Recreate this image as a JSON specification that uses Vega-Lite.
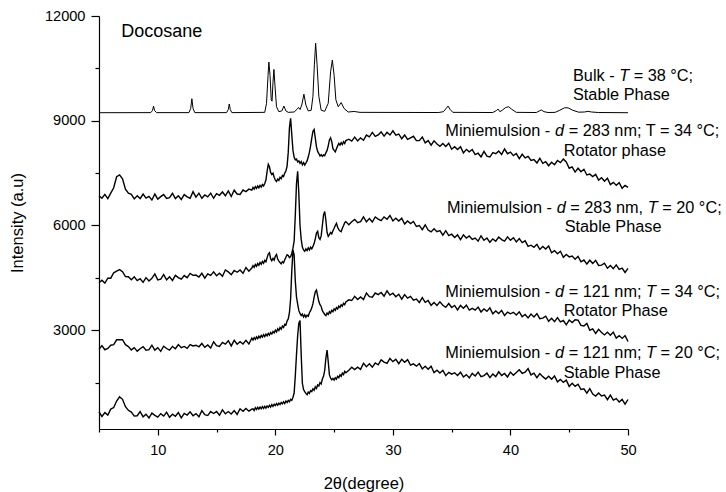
{
  "$schema": "https://vega.github.io/schema/vega-lite/v6.json",
  "autosize": {"type": "none"},
  "width": 529,
  "height": 413,
  "padding": {"left": 99, "top": 16, "right": 98, "bottom": 63},
  "background": "white",
  "config": {
    "view": {"stroke": null},
    "font": "Liberation Sans",
    "axis": {
      "grid": false,
      "domainColor": "black",
      "domainWidth": 1.2,
      "tickColor": "black",
      "tickWidth": 1.2,
      "labelColor": "black",
      "labelFont": "Liberation Sans",
      "labelFontSize": 14.6,
      "titleFont": "Liberation Sans",
      "titleFontSize": 16.5,
      "titleFontWeight": "normal",
      "titleColor": "black",
      "labelOverlap": false,
      "labelFlush": false
    }
  },
  "datasets": {
    "noisy": [
      {
        "x": [5,5.25,5.5,5.75,6,6.25,6.5,6.75,7,7.25,7.5,7.75,8,8.25,8.5,8.75,9,9.25,9.5,9.75,10,10.25,10.5,10.75,11,11.25,11.5,11.75,12,12.25,12.5,12.75,13,13.25,13.5,13.75,14,14.25,14.5,14.75,15,15.25,15.5,15.75,16,16.25,16.5,16.75,17,17.25,17.5,17.75,18,
              18.1,18.2,18.3,18.4,18.5,18.6,18.7,18.8,18.9,19,19.1,19.2,19.3,19.4,19.5,19.6,19.7,19.8,19.9,20,20.1,20.2,20.3,20.4,20.5,20.6,20.7,20.8,20.9,21,21.1,21.2,21.3,21.4,21.5,21.6,21.7,21.8,21.9,22,22.1,22.2,22.3,22.4,22.5,22.6,22.7,22.8,22.9,23,23.1,23.2,23.3,23.4,23.5,23.6,23.7,23.8,23.9,24,24.1,24.2,24.3,24.4,24.5,24.6,24.7,24.8,24.9,25,25.1,25.2,25.3,25.4,25.5,25.6,25.7,25.8,25.9,26,
              26.25,26.5,26.75,27,27.25,27.5,27.75,28,28.25,28.5,28.75,29,29.25,29.5,29.75,30,30.25,30.5,30.75,31,31.25,31.5,31.75,32,32.25,32.5,32.75,33,33.25,33.5,33.75,34,34.25,34.5,34.75,35,35.25,35.5,35.75,36,36.25,36.5,36.75,37,37.25,37.5,37.75,38,38.25,38.5,38.75,39,39.25,39.5,39.75,40,40.25,40.5,40.75,41,41.25,41.5,41.75,42,42.25,42.5,42.75,43,43.25,43.5,43.75,44,44.25,44.5,44.75,45,45.25,45.5,45.75,46,46.25,46.5,46.75,47,47.25,47.5,47.75,48,48.25,48.5,48.75,49,49.25,49.5,49.75,50],
        "c2": [6850,6780,6890,6770,6925,7080,7395,7450,7335,7040,6925,6890,6760,6850,6770,6900,6785,6835,6730,6900,6755,6825,6885,6775,6795,6920,6770,6850,6745,6885,6820,6780,6970,6810,6925,6780,6875,6820,6925,6780,6910,6865,6960,6850,6990,6830,7010,6900,6890,7015,6970,7040,7010,
              7090,7040,7110,7060,7130,7080,7150,7100,7170,7130,7200,7300,7550,7750,7680,7520,7460,7500,7380,7300,7260,7330,7290,7380,7340,7430,7400,7500,7560,7700,8100,8800,9070,8600,8150,7950,7880,7900,7820,7850,7780,7830,7740,7800,7730,7790,7850,7960,8100,8280,8500,8700,8750,8500,8250,8120,8060,7990,8030,7980,8020,8000,8080,8150,8280,8450,8510,8400,8200,8150,8110,8200,8280,8350,8300,8370,8320,8400,8350,8430,
              8470,8415,8530,8420,8510,8440,8590,8540,8665,8550,8595,8680,8560,8668,8590,8710,8585,8620,8485,8590,8465,8510,8555,8430,8430,8535,8365,8430,8300,8425,8335,8270,8350,8265,8355,8185,8255,8175,8255,8080,8180,8110,8175,8030,8070,7965,8120,7985,7960,8090,8055,8130,8035,8190,8055,8100,8000,8060,7915,8040,7935,7980,7865,7890,7790,7925,7780,7830,7710,7810,7740,7860,7800,7900,7820,7640,7680,7530,7640,7540,7610,7445,7470,7400,7465,7300,7365,7270,7355,7170,7235,7150,7225,7065,7150,7090],
        "c3": [4360,4430,4350,4490,4490,4645,4690,4735,4675,4535,4530,4445,4530,4420,4475,4370,4505,4410,4485,4610,4440,4465,4590,4445,4530,4425,4570,4505,4460,4565,4505,4625,4570,4580,4525,4630,4490,4615,4570,4670,4560,4630,4545,4725,4670,4590,4710,4660,4725,4630,4795,4690,4780,
              4850,4800,4880,4830,4910,4860,4940,4890,4970,4920,5000,4960,5080,5180,5220,5050,4990,5060,5010,5120,5170,5040,4980,4940,4900,4960,4930,5020,5090,5160,5140,5080,5110,5200,5350,5550,6300,7200,7550,6900,6000,5600,5380,5300,5260,5330,5280,5360,5300,5380,5330,5400,5480,5620,5780,5830,5650,5600,5700,6000,6300,6400,6150,5800,5690,5740,5800,5760,5850,5920,6000,6060,5950,5880,5840,5820,5920,5990,6080,6110,
              6020,6105,6175,6080,6110,6245,6105,6200,6098,6245,6183,6140,6245,6180,6285,6130,6205,6125,6210,6040,6130,6055,6115,5970,6000,5880,6020,5870,5815,5905,5820,5850,5720,5850,5710,5750,5655,5730,5595,5730,5640,5700,5600,5640,5550,5705,5575,5640,5518,5615,5548,5670,5595,5550,5673,5576,5650,5530,5625,5510,5560,5400,5435,5375,5460,5315,5400,5325,5410,5220,5280,5190,5260,5090,5170,5100,5125,5035,5115,4960,5010,4895,5005,4910,5000,4855,4865,4920,4775,4855,4760,4870,4745,4780,4655,4770],
        "c4": [2450,2560,2440,2480,2570,2585,2725,2725,2730,2585,2530,2435,2500,2400,2470,2530,2425,2445,2570,2430,2500,2395,2540,2475,2430,2535,2470,2590,2500,2535,2480,2590,2550,2570,2525,2620,2510,2575,2490,2670,2560,2535,2650,2600,2700,2550,2710,2600,2670,2605,2710,2605,2770,
              2720,2790,2740,2810,2760,2830,2780,2850,2800,2870,2820,2890,2840,2910,2860,2930,2890,2960,2920,3000,2950,3040,2990,3080,3030,3120,3080,3170,3150,3260,3330,3500,3900,4700,5300,5150,4400,3950,3750,3560,3480,3420,3460,3380,3440,3370,3430,3400,3500,3560,3640,3760,3950,4100,4150,3980,3820,3730,3680,3560,3500,3450,3420,3490,3450,3530,3490,3570,3530,3610,3570,3650,3610,3690,3650,3730,3690,3770,3730,3810,
              3870,3850,3970,3880,3955,3880,4065,3960,3945,4065,4020,4080,3975,4130,4005,4060,3960,4030,3890,4020,3920,3970,3860,3890,3792,3935,3798,3850,3713,3796,3709,3812,3715,3655,3765,3650,3710,3580,3710,3628,3717,3577,3625,3574,3663,3522,3611,3540,3640,3470,3550,3480,3570,3420,3520,3470,3512,3434,3525,3386,3448,3350,3465,3380,3475,3330,3345,3400,3255,3340,3245,3360,3240,3278,3155,3290,3220,3300,3290,3140,3120,3195,3000,3037,2905,3025,2935,2865,2945,2855,2945,2775,2845,2765,2845,2678],
        "c5": [660,530,640,570,740,785,970,1090,1020,810,705,655,540,550,670,520,595,485,625,560,510,610,540,650,505,595,535,640,490,615,570,660,550,610,520,695,580,555,670,615,670,565,720,605,670,600,700,590,750,680,760,680,740,
              750,700,780,730,790,740,800,750,810,760,820,770,830,790,850,800,870,820,880,840,900,850,910,870,930,890,950,900,970,930,990,950,1020,990,1080,1200,1700,2300,2850,3200,3280,2300,1480,1300,1240,1190,1150,1230,1190,1270,1240,1320,1280,1380,1330,1430,1400,1500,1460,1600,1680,1850,2200,2430,2100,1720,1630,1580,1620,1570,1640,1600,1680,1640,1720,1680,1770,1730,1820,1780,
              1850,1940,1870,1940,1878,2055,1953,2040,1940,2060,2010,2150,2085,2050,2190,2100,2168,2040,2165,2080,2155,2000,2035,1970,2045,1890,1965,1880,1968,1786,1854,1772,1850,1698,1794,1740,1782,1705,1798,1660,1728,1635,1762,1690,1800,1670,1700,1770,1642,1745,1672,1808,1704,1760,1660,1800,1710,1790,1865,1765,1795,1900,1720,1770,1640,1760,1670,1600,1682,1595,1687,1520,1590,1505,1570,1390,1478,1395,1453,1300,1322,1195,1328,1170,1115,1200,1115,1140,1010,1140,1000,1040,944,1018,882,1015]
      }
    ],
    "bulk": [
      {"x":5,"y":9230},{"x":9.4,"y":9232},{"x":9.55,"y":9290},{"x":9.64,"y":9420},{"x":9.73,"y":9290},{"x":9.9,"y":9232},
      {"x":12.65,"y":9232},{"x":12.8,"y":9350},{"x":12.9,"y":9630},{"x":13.0,"y":9350},{"x":13.15,"y":9232},
      {"x":15.85,"y":9232},{"x":16.0,"y":9320},{"x":16.08,"y":9480},{"x":16.17,"y":9320},{"x":16.3,"y":9232},
      {"x":19.1,"y":9240},{"x":19.25,"y":9500},{"x":19.38,"y":10300},{"x":19.45,"y":10680},{"x":19.55,"y":10300},{"x":19.65,"y":9600},{"x":19.72,"y":9560},{"x":19.8,"y":10100},{"x":19.88,"y":10470},{"x":19.97,"y":10000},{"x":20.1,"y":9400},{"x":20.3,"y":9260},
      {"x":20.55,"y":9280},{"x":20.73,"y":9420},{"x":20.9,"y":9280},{"x":21.1,"y":9240},
      {"x":21.6,"y":9250},{"x":21.85,"y":9330},{"x":21.98,"y":9380},{"x":22.1,"y":9320},{"x":22.25,"y":9450},{"x":22.43,"y":9760},{"x":22.6,"y":9450},{"x":22.8,"y":9280},
      {"x":23.05,"y":9300},{"x":23.2,"y":9700},{"x":23.32,"y":10600},{"x":23.43,"y":11220},{"x":23.55,"y":10600},{"x":23.7,"y":9700},{"x":23.9,"y":9300},
      {"x":24.2,"y":9270},{"x":24.5,"y":9500},{"x":24.7,"y":10400},{"x":24.85,"y":10740},{"x":25.0,"y":10300},{"x":25.15,"y":9600},{"x":25.35,"y":9400},{"x":25.6,"y":9520},{"x":25.85,"y":9350},{"x":26.2,"y":9250},{"x":26.7,"y":9265},{"x":27.2,"y":9240},
      {"x":33.9,"y":9235},{"x":34.3,"y":9260},{"x":34.55,"y":9360},{"x":34.69,"y":9420},{"x":34.85,"y":9330},{"x":35.1,"y":9240},
      {"x":38.5,"y":9235},{"x":38.8,"y":9290},{"x":38.94,"y":9336},{"x":39.1,"y":9260},{"x":39.3,"y":9300},{"x":39.6,"y":9380},{"x":39.85,"y":9400},{"x":40.1,"y":9330},{"x":40.5,"y":9240},
      {"x":42.2,"y":9235},{"x":42.45,"y":9280},{"x":42.63,"y":9308},{"x":42.85,"y":9260},{"x":43.2,"y":9235},
      {"x":43.8,"y":9240},{"x":44.2,"y":9300},{"x":44.6,"y":9370},{"x":44.9,"y":9370},{"x":45.3,"y":9300},{"x":45.8,"y":9245},{"x":46.3,"y":9250},{"x":46.6,"y":9270},{"x":46.9,"y":9250},{"x":47.5,"y":9235},{"x":50,"y":9230}
    ],
    "labels": [
      {"x":6.89,"y":11407,"t":"Docosane","k":"title"},
      {"x":45.32,"y":10147,"t":"Bulk -","k":"n"},
      {"x":49.25,"y":10147,"t":"T","k":"i"},
      {"x":50.48,"y":10147,"t":"= 38 °C;","k":"n"},
      {"x":45.32,"y":9594,"t":"Stable Phase","k":"n"},
      {"x":34.46,"y":8563,"t":"Miniemulsion -","k":"n"},
      {"x":43.79,"y":8563,"t":"d","k":"i"},
      {"x":44.95,"y":8563,"t":"= 283 nm; T = 34 °C;","k":"n"},
      {"x":44.53,"y":7999,"t":"Rotator phase","k":"n"},
      {"x":34.60,"y":6349,"t":"Miniemulsion -","k":"n"},
      {"x":43.93,"y":6349,"t":"d","k":"i"},
      {"x":45.09,"y":6349,"t":"= 283 nm,","k":"n"},
      {"x":51.68,"y":6349,"t":"T","k":"i"},
      {"x":52.91,"y":6349,"t":"= 20 °C;","k":"n"},
      {"x":44.61,"y":5805,"t":"Stable Phase","k":"n"},
      {"x":34.46,"y":3961,"t":"Miniemulsion -","k":"n"},
      {"x":43.79,"y":3961,"t":"d","k":"i"},
      {"x":44.95,"y":3961,"t":"= 121 nm;","k":"n"},
      {"x":51.54,"y":3961,"t":"T","k":"i"},
      {"x":52.77,"y":3961,"t":"= 34 °C;","k":"n"},
      {"x":44.53,"y":3408,"t":"Rotator Phase","k":"n"},
      {"x":34.46,"y":2197,"t":"Miniemulsion -","k":"n"},
      {"x":43.79,"y":2197,"t":"d","k":"i"},
      {"x":44.95,"y":2197,"t":"= 121 nm;","k":"n"},
      {"x":51.54,"y":2197,"t":"T","k":"i"},
      {"x":52.77,"y":2197,"t":"= 20 °C;","k":"n"},
      {"x":44.53,"y":1641,"t":"Stable Phase","k":"n"}
    ]
  },
  "encoding": {
    "x": {
      "field": "x",
      "type": "quantitative",
      "scale": {"domain": [5, 50], "nice": false, "zero": false},
      "axis": {
        "title": "2θ(degree)",
        "values": [5,10,15,20,25,30,35,40,45,50],
        "labelExpr": "datum.value % 10 === 0 ? datum.label : ''",
        "tickSize": {"condition": {"test": "datum.value % 10 === 0", "value": 6}, "value": 3},
        "labelPadding": 7,
        "titlePadding": 19
      }
    },
    "y": {
      "field": "y",
      "type": "quantitative",
      "scale": {"domain": [170, 12000], "nice": false, "zero": false},
      "axis": {
        "title": "Intensity (a.u)",
        "values": [1500,3000,4500,6000,7500,9000,10500,12000],
        "format": "d",
        "labelExpr": "datum.value % 3000 === 0 ? datum.label : ''",
        "tickSize": {"condition": {"test": "datum.value % 3000 === 0", "value": 8}, "value": 4},
        "labelPadding": 6,
        "titlePadding": 19
      }
    }
  },
  "layer": [
    {
      "data": {"name": "bulk"},
      "mark": {"type": "line", "color": "black", "strokeWidth": 1}
    },
    {
      "data": {"name": "noisy"},
      "transform": [
        {"flatten": ["x", "c2", "c3", "c4", "c5"]},
        {"fold": ["c2", "c3", "c4", "c5"], "as": ["series", "y"]}
      ],
      "mark": {"type": "line", "color": "black", "strokeWidth": 1.4},
      "encoding": {"detail": {"field": "series"}}
    },
    {
      "data": {"name": "labels"},
      "transform": [{"filter": "datum.k === 'n'"}],
      "mark": {"type": "text", "align": "left", "baseline": "alphabetic", "fontSize": 16.3, "font": "Liberation Sans", "color": "black"},
      "encoding": {"text": {"field": "t"}}
    },
    {
      "data": {"name": "labels"},
      "transform": [{"filter": "datum.k === 'i'"}],
      "mark": {"type": "text", "align": "left", "baseline": "alphabetic", "fontSize": 16.3, "fontStyle": "italic", "font": "Liberation Sans", "color": "black"},
      "encoding": {"text": {"field": "t"}}
    },
    {
      "data": {"name": "labels"},
      "transform": [{"filter": "datum.k === 'title'"}],
      "mark": {"type": "text", "align": "left", "baseline": "alphabetic", "fontSize": 18, "font": "Liberation Sans", "color": "black"},
      "encoding": {"text": {"field": "t"}}
    }
  ]
}
